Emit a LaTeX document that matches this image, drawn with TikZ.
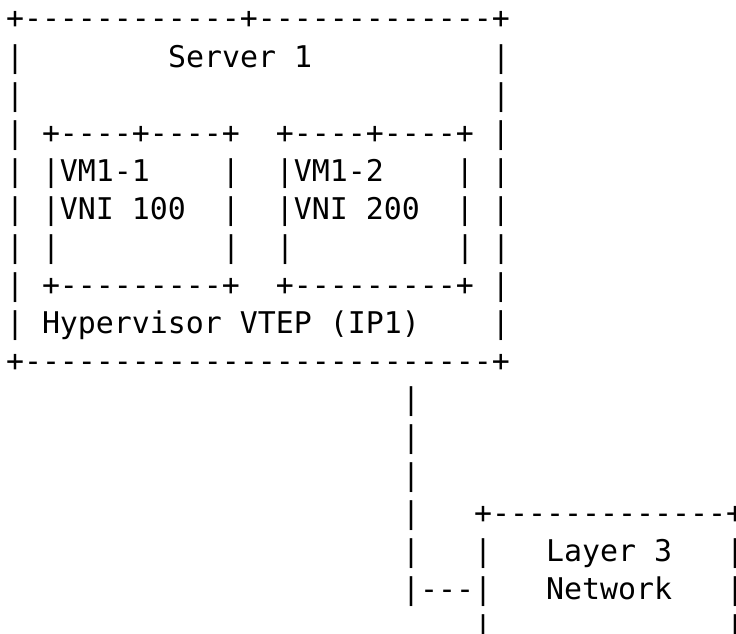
\documentclass[tikz,border=0pt]{standalone}
\usepackage{fontspec}
\setmonofont{DejaVu Sans Mono}
\tikzset{ascii/.style={anchor=base west, inner sep=0pt, outer sep=0pt, text=black,
  font=\ttfamily\fontsize{29.9pt}{38pt}\selectfont}}
% \arow{name}{row}{column}{text}
\newcommand\arow[4]{\node[ascii] (#1) at ({6pt+18pt*#3},{-29pt-38pt*#2}) {#4};}
\begin{document}
\begin{tikzpicture}
\fill[white] (0,0) rectangle (736pt,-634pt);
\useasboundingbox (0,0) rectangle (736pt,-634pt);
\arow{r0}{0}{0}{+------------+-------------+}
\arow{r1}{1}{0}{|~~~~~~~~Server~1~~~~~~~~~~|}
\arow{r2}{2}{0}{|~~~~~~~~~~~~~~~~~~~~~~~~~~|}
\arow{r3}{3}{0}{|~+----+----+~~+----+----+~|}
\arow{r4}{4}{0}{|~|VM1-1~~~~|~~|VM1-2~~~~|~|}
\arow{r5}{5}{0}{|~|VNI~100~~|~~|VNI~200~~|~|}
\arow{r6}{6}{0}{|~|~~~~~~~~~|~~|~~~~~~~~~|~|}
\arow{r7}{7}{0}{|~+---------+~~+---------+~|}
\arow{r8}{8}{0}{|~Hypervisor~VTEP~(IP1)~~~~|}
\arow{r9}{9}{0}{+--------------------------+}
\arow{r10}{10}{22}{|}
\arow{r11}{11}{22}{|}
\arow{r12}{12}{22}{|}
\arow{r13}{13}{22}{|~~~+-------------+}
\arow{r14}{14}{22}{|~~~|~~~Layer~3~~~|}
\arow{r15}{15}{22}{|---|~~~Network~~~|}
\arow{r16}{16}{26}{|~~~~~~~~~~~~~|}
\end{tikzpicture}
\end{document}
